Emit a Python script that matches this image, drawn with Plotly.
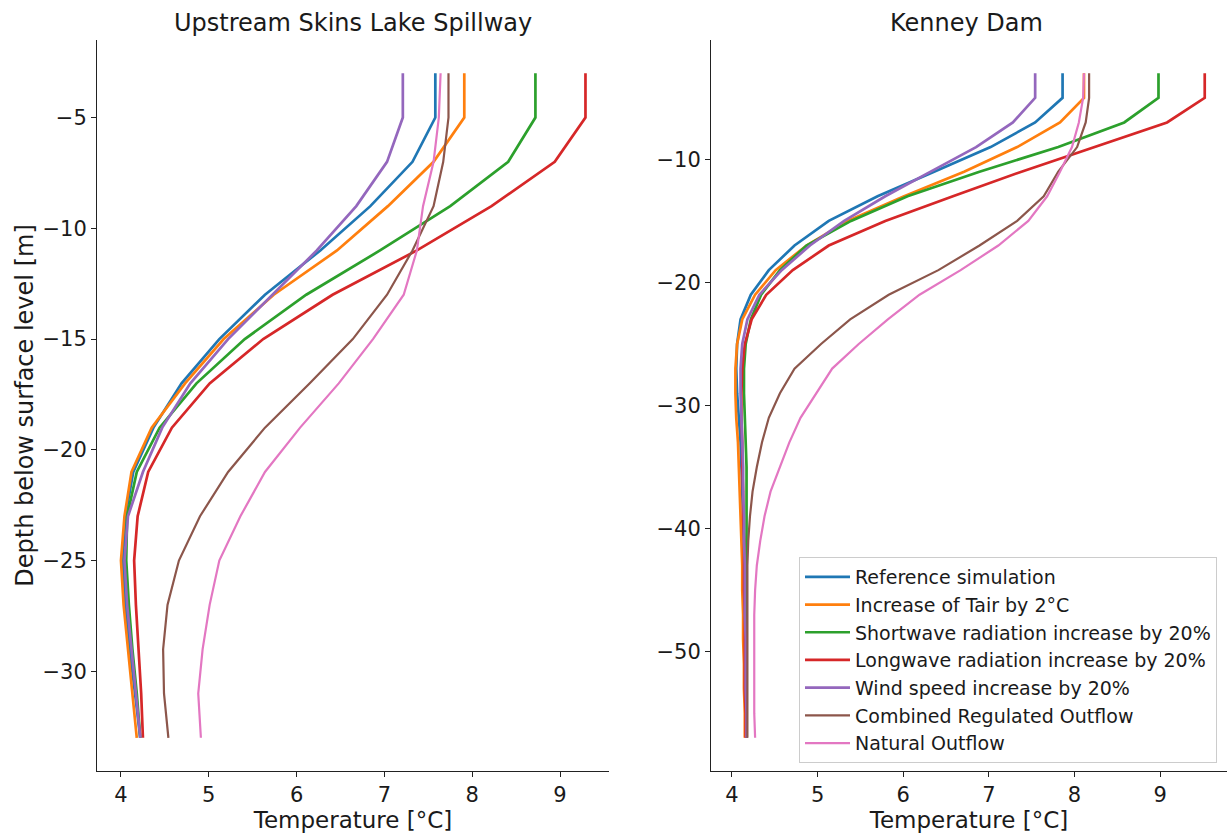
import plotly.graph_objects as go

# Depth (m, negative below surface) of the model layers at each site
depth_upstream = [-3, -5, -7, -9, -11, -13, -15, -17, -19, -21, -23, -25, -27, -29, -31, -33]
depth_kenney = [-3, -5, -7, -9, -11, -13, -15, -17, -19, -21, -23, -25, -27, -29,
                -31, -33, -35, -37, -39, -41, -43, -45, -47, -49, -51, -53, -55, -57]

scenario_names = [
    "Reference simulation",
    "Increase of Tair by 2°C",
    "Shortwave radiation increase by 20%",
    "Longwave radiation increase by 20%",
    "Wind speed increase by 20%",
    "Combined Regulated Outflow",
    "Natural Outflow",
]

# Temperature profiles (°C) - Upstream Skins Lake Spillway
up_reference = [7.58, 7.58, 7.32, 6.84, 6.27, 5.64, 5.12, 4.69, 4.37, 4.14, 4.05, 4.02, 4.05, 4.10, 4.16, 4.22]
up_tair = [7.91, 7.91, 7.56, 7.04, 6.46, 5.74, 5.17, 4.73, 4.35, 4.12, 4.04, 4.00, 4.03, 4.08, 4.13, 4.18]
up_shortwave = [8.72, 8.72, 8.41, 7.75, 6.95, 6.11, 5.41, 4.86, 4.44, 4.18, 4.07, 4.06, 4.09, 4.13, 4.18, 4.22]
up_longwave = [9.29, 9.29, 8.94, 8.22, 7.37, 6.41, 5.62, 5.01, 4.58, 4.31, 4.19, 4.15, 4.17, 4.20, 4.23, 4.25]
up_wind = [7.21, 7.21, 7.03, 6.68, 6.23, 5.72, 5.22, 4.79, 4.47, 4.25, 4.08, 4.04, 4.07, 4.12, 4.17, 4.22]
up_combined = [7.73, 7.73, 7.67, 7.56, 7.32, 7.03, 6.64, 6.15, 5.64, 5.22, 4.90, 4.66, 4.53, 4.48, 4.49, 4.54]
up_natural = [7.64, 7.62, 7.56, 7.44, 7.37, 7.22, 6.87, 6.48, 6.04, 5.64, 5.36, 5.12, 5.01, 4.93, 4.88, 4.91]

# Temperature profiles (°C) - Kenney Dam
kd_reference = [7.86, 7.86, 7.54, 7.02, 6.36, 5.70, 5.13, 4.73, 4.43, 4.22, 4.10, 4.06, 4.05, 4.06,
                4.08, 4.10, 4.11, 4.12, 4.13, 4.14, 4.14, 4.15, 4.15, 4.15, 4.16, 4.16, 4.16, 4.17]
kd_tair = [8.11, 8.11, 7.83, 7.33, 6.71, 6.01, 5.35, 4.87, 4.51, 4.27, 4.12, 4.06, 4.04, 4.04,
           4.05, 4.07, 4.08, 4.09, 4.10, 4.11, 4.12, 4.12, 4.13, 4.13, 4.14, 4.14, 4.15, 4.15]
kd_shortwave = [8.98, 8.98, 8.58, 7.81, 6.89, 6.05, 5.39, 4.87, 4.56, 4.34, 4.22, 4.16, 4.14, 4.14,
                4.15, 4.16, 4.17, 4.17, 4.17, 4.17, 4.17, 4.17, 4.17, 4.17, 4.17, 4.17, 4.17, 4.17]
kd_longwave = [9.52, 9.52, 9.08, 8.22, 7.38, 6.58, 5.79, 5.13, 4.71, 4.40, 4.23, 4.15, 4.12, 4.11,
               4.11, 4.12, 4.12, 4.13, 4.13, 4.14, 4.14, 4.14, 4.15, 4.15, 4.15, 4.15, 4.16, 4.16]
kd_wind = [7.54, 7.54, 7.28, 6.85, 6.32, 5.79, 5.31, 4.91, 4.58, 4.32, 4.18, 4.12, 4.10, 4.10,
           4.11, 4.12, 4.13, 4.13, 4.14, 4.14, 4.15, 4.15, 4.15, 4.16, 4.16, 4.16, 4.17, 4.17]
kd_combined = [8.17, 8.17, 8.13, 8.03, 7.81, 7.64, 7.33, 6.89, 6.41, 5.83, 5.38, 5.04, 4.73, 4.56,
               4.43, 4.35, 4.29, 4.24, 4.21, 4.19, 4.18, 4.18, 4.18, 4.18, 4.18, 4.18, 4.18, 4.18]
kd_natural = [8.11, 8.10, 8.05, 7.97, 7.83, 7.68, 7.46, 7.11, 6.67, 6.19, 5.82, 5.48, 5.17, 4.98,
              4.80, 4.67, 4.56, 4.45, 4.38, 4.33, 4.29, 4.27, 4.26, 4.26, 4.26, 4.26, 4.26, 4.27]

upstream_profiles = [up_reference, up_tair, up_shortwave, up_longwave, up_wind, up_combined, up_natural]
kenney_profiles = [kd_reference, kd_tair, kd_shortwave, kd_longwave, kd_wind, kd_combined, kd_natural]

colors = ["#1f77b4", "#ff7f0e", "#2ca02c", "#d62728", "#9467bd", "#8c564b", "#e377c2"]
widths = [2.7, 2.7, 2.7, 2.7, 2.7, 2.2, 2.2]

FONT = "DejaVu Sans"
W, H = 1227, 833

fig = go.Figure()

for name, temps, col, lw in zip(scenario_names, upstream_profiles, colors, widths):
    fig.add_trace(go.Scatter(x=temps, y=depth_upstream, mode="lines", name=name,
                             line=dict(color=col, width=lw), showlegend=False,
                             xaxis="x", yaxis="y"))

for name, temps, col, lw in zip(scenario_names, kenney_profiles, colors, widths):
    fig.add_trace(go.Scatter(x=temps, y=depth_kenney, mode="lines", name=name,
                             line=dict(color=col, width=lw), showlegend=True,
                             legendgroup=name, xaxis="x2", yaxis="y2"))

axis_common = dict(
    showline=True, linecolor="#222222", linewidth=1, mirror=False,
    ticks="outside", ticklen=5, tickwidth=1, tickcolor="#222222",
    showgrid=False, zeroline=False,
    tickfont=dict(family=FONT, size=21, color="#1a1a1a"),
)

title_font = dict(family=FONT, size=24, color="#1a1a1a")
xtitle_font = dict(family=FONT, size=23, color="#1a1a1a")

fig.update_layout(
    width=W, height=H,
    margin=dict(l=0, r=0, t=40, b=62),
    paper_bgcolor="white", plot_bgcolor="white",
    font=dict(family=FONT, color="#1a1a1a"),
    xaxis=dict(domain=[97 / W, 609 / W], range=[3.727, 9.558], tick0=4, dtick=1,
               title=dict(text="Temperature [°C]", font=xtitle_font, standoff=7),
               anchor="y", **axis_common),
    yaxis=dict(domain=[0, 1], range=[-34.5, -1.5], tick0=0, dtick=5,
               title=dict(text="Depth below surface level [m]", font=title_font, standoff=2),
               anchor="x", **axis_common),
    xaxis2=dict(domain=[711 / W, 1.0], range=[3.755, 9.78], tick0=4, dtick=1,
                title=dict(text="Temperature [°C]", font=xtitle_font, standoff=7),
                anchor="y2", **axis_common),
    yaxis2=dict(domain=[0, 1], range=[-59.7, -0.3], tick0=0, dtick=10,
                anchor="x2", **axis_common),
    legend=dict(
        x=1217 / W, xanchor="right", y=8 / 731, yanchor="bottom",
        bgcolor="white", bordercolor="#cccccc", borderwidth=1,
        font=dict(family=FONT, size=19, color="#1a1a1a"),
        tracegroupgap=4, traceorder="normal", itemwidth=45,
    ),
    annotations=[
        dict(text="Upstream Skins Lake Spillway", x=(97 + 609) / 2 / W, y=(771 - 23) / 731,
             xref="paper", yref="paper", xanchor="center", yanchor="middle", showarrow=False,
             font=title_font),
        dict(text="Kenney Dam", x=(711 + 1227) / 2 / W - 0.002, y=(771 - 23) / 731,
             xref="paper", yref="paper", xanchor="center", yanchor="middle", showarrow=False,
             font=title_font),
    ],
)

fig.write_html("out.html")
